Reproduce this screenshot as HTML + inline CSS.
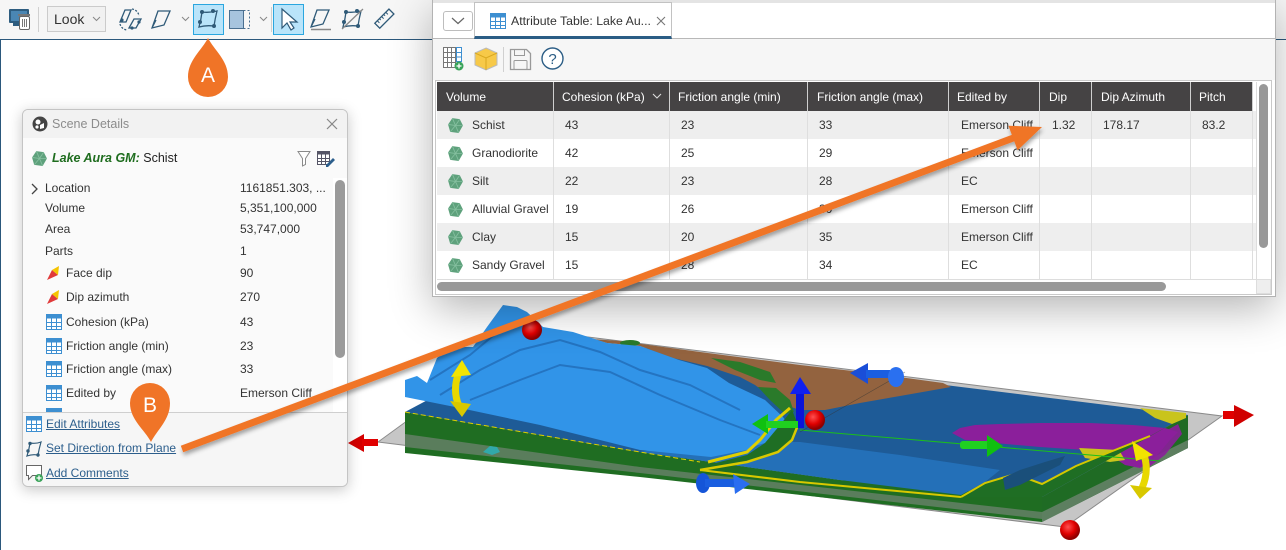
<!DOCTYPE html>
<html><head><meta charset="utf-8">
<style>
*{box-sizing:border-box;margin:0;padding:0}
body{width:1286px;height:550px;overflow:hidden;position:relative;background:#fff;font-family:"Liberation Sans",Arial,sans-serif;font-size:12px;color:#333}
.a{position:absolute}
.t{position:absolute;white-space:nowrap;line-height:16px}
.h{position:absolute;white-space:nowrap;line-height:16px;color:#fff;top:89px}
.lk{position:absolute;white-space:nowrap;line-height:16px;left:23px;color:#2c5e8c;text-decoration:underline}
.vl{position:absolute;width:1px;background:#dedede;top:111px;height:168px}
.hl{position:absolute;width:1px;background:#cfcfcf;top:82px;height:29px}
</style></head><body>

<!-- main toolbar -->
<div class="a" style="left:0;top:0;width:1286px;height:40px;background:#f6f6f6;border-bottom:1px solid #2b587c"></div>
<div class="a" style="left:0;top:40px;width:1px;height:510px;background:#2b587c"></div>
<svg class="a" style="left:0;top:0" width="440" height="40">
 <rect x="9" y="9" width="20" height="14" rx="1" fill="#2e5d80"/>
 <rect x="11" y="11" width="16" height="10" fill="#4a86b3"/>
 <rect x="13" y="23" width="8" height="3" fill="#2e5d80"/>
 <rect x="18" y="14" width="12" height="2" fill="#777"/>
 <rect x="19.5" y="16.5" width="10" height="13" rx="1.5" fill="#fff" stroke="#666"/>
 <path d="M22.5 19v8M24.5 19v8M26.5 19v8" stroke="#777"/>
 <line x1="38.5" y1="7" x2="38.5" y2="32" stroke="#d0d0d0"/>
 <rect x="47.5" y="6.5" width="58" height="25" fill="#f1f1f1" stroke="#cbcbcb"/>
 <text x="54" y="24" font-size="14" fill="#333" font-family="Liberation Sans, Arial, sans-serif">Look</text>
 <path d="M93 17l3.5 3.5l3.5-3.5" fill="none" stroke="#888"/>
 <g fill="none" stroke="#2f5a78" stroke-width="1.3">
  <path d="M120 22l5-12h6l-5 12z"/><path d="M129 28l5-9h7l-5 9z"/>
  <path d="M132 9a8 8 0 0 1 7 7" stroke-dasharray="2 1.5"/><path d="M120 24a8 8 0 0 0 7 6" stroke-dasharray="2 1.5"/>
 </g>
 <circle cx="122" cy="20" r="1.6" fill="#2f5a78"/><circle cx="139" cy="22" r="1.6" fill="#2f5a78"/><circle cx="132" cy="28" r="1.6" fill="#2f5a78"/>
 <path d="M152 28l6-17h12l-6 14z M152 28l4-8" fill="none" stroke="#2f5a78" stroke-width="1.3"/>
 <path d="M182 17l3.5 3.5l3.5-3.5" fill="none" stroke="#888"/>
 <rect x="193.5" y="4.5" width="30" height="30" fill="#b9e4fa" stroke="#2aa6df"/>
 <path d="M199 27q2-7 3-15q7 1 15-1q-2 8-3 15q-8-1-15 1z" fill="none" stroke="#2f5a78" stroke-width="1.3"/>
 <circle cx="202" cy="12" r="2" fill="#2f5a78"/><circle cx="213" cy="11" r="2" fill="#2f5a78"/><circle cx="214" cy="26" r="2" fill="#2f5a78"/><circle cx="200" cy="22" r="2" fill="#2f5a78"/>
 <rect x="229.5" y="10.5" width="14" height="18" fill="#a7c4de" stroke="#4a6f90"/>
 <path d="M243.5 10.5h6v18h-6" fill="none" stroke="#4a6f90" stroke-dasharray="2 2"/>
 <path d="M260 17l3.5 3.5l3.5-3.5" fill="none" stroke="#888"/>
 <line x1="271.5" y1="7" x2="271.5" y2="32" stroke="#d0d0d0"/>
 <rect x="273.5" y="4.5" width="30" height="30" fill="#b9e4fa" stroke="#2aa6df"/>
 <path d="M282 9v19l5-5 4 7 3-2-4-6h7z" fill="#fff" stroke="#2f5a78" stroke-width="1.2"/>
 <path d="M311 27l6-17h12l-6 14z M311 27l4-8" fill="none" stroke="#2f5a78" stroke-width="1.3"/>
 <line x1="311" y1="29.5" x2="331" y2="29.5" stroke="#888" stroke-width="1.5"/>
 <path d="M343 27q2-7 3-15q7 1 15-1q-2 8-3 15q-8-1-15 1z" fill="none" stroke="#2f5a78" stroke-width="1.3"/>
 <line x1="342" y1="29" x2="363" y2="9" stroke="#888" stroke-width="1.3"/>
 <circle cx="346" cy="12" r="2" fill="#2f5a78"/><circle cx="357" cy="11" r="2" fill="#2f5a78"/><circle cx="358" cy="26" r="2" fill="#2f5a78"/><circle cx="344" cy="22" r="2" fill="#2f5a78"/>
 <g transform="rotate(-45 384 19)"><rect x="374.5" y="15.5" width="20" height="7" fill="none" stroke="#2f5a78" stroke-width="1.3"/>
 <path d="M378 15.5v3M381 15.5v2M384 15.5v3M387 15.5v2M390 15.5v3" stroke="#2f5a78"/></g>
</svg>

<!-- 3D scene -->
<svg class="a" style="left:0;top:0;z-index:1" width="1286" height="550">
 <defs>
  <radialGradient id="rs" cx="40%" cy="35%" r="60%"><stop offset="0" stop-color="#ff5050"/><stop offset=".6" stop-color="#e00000"/><stop offset="1" stop-color="#900000"/></radialGradient>
 </defs>
 <polygon points="378,442 532,330 1222,416 1065,527" fill="#c6c6c6" stroke="#8a8a8a" stroke-width="1"/>
 <!-- right face -->
 <polygon points="1042,497 1188,415 1188,448 1042,522" fill="#1f6b24"/>
 <polygon points="1042,512 1188,440 1188,448 1042,522" fill="#5d7f60"/>
 <polygon points="1135,452 1150,440 1178,424 1182,434 1165,455 1145,470" fill="#8b1f9b" opacity=".9"/>
 <!-- front face -->
 <polygon points="405,412 640,452 840,480 1042,497 1042,522 640,477 405,453" fill="#1f6d22"/>
 <polygon points="405,434 640,467 1042,512 1042,519 640,473 405,447" fill="#5a7d5c"/>
 <!-- top surface -->
 <polygon points="405,412 548,336 1188,415 1042,497 840,480 640,452" fill="#1e5b97"/>
 <polygon points="640,452 840,480 961,495 985,482 1000,470 900,455 800,442 700,440" fill="#2470b8"/>
 <polygon points="548,336 620,341 700,352 800,365 870,373 943,383 951,387 900,396 860,403 825,410 800,410 782,404 770,396 755,385 740,377 707,366 673,358 640,346 607,343 573,333" fill="#93633f"/>
 <ellipse cx="630" cy="343" rx="10" ry="3" fill="#2a7a2a"/>
 <polygon points="711,358 740,362 770,372 776,383 760,380 735,370" fill="#2a7a2a"/>
 <polygon points="758,387 776,388 790,400 794,412 785,414 770,400" fill="#2a7a2a"/>
 <!-- mountain -->
 <polygon points="405,397 405,380 417,376 427,383 437,358 450,347 473,347 487,327 503,305 517,307 527,312 543,327 573,332 607,343 640,346 679,360 707,368 729,383 765,400 783,417 790,427 776,440 758,445 747,450 711,457 640,450 600,440 540,425 460,408" fill="#3194e8"/>
 <g fill="none" stroke="#1d5fa8" stroke-width="2" opacity=".6">
  <path d="M440 395 L480 370 L520 350 L560 340 L600 352 L640 370 L690 385 L740 410"/>
  <path d="M470 400 L520 380 L560 365 L610 372 L660 395 L720 420 L760 435"/>
  <path d="M430 380 L470 355 L500 330"/>
 </g>
 <!-- coastline -->
 <polygon points="708,465 747,455 765,443 780,425 792,410 798,425 792,440 778,452 748,462 712,470" fill="#1f6e24"/>
 <polyline points="708,462 747,452 760,440 776,420 790,408" fill="none" stroke="#e0d000" stroke-width="3"/>
 <polyline points="700,470 747,462 778,452 792,440 798,425" fill="none" stroke="#d8c800" stroke-width="2.5"/>
 <polyline points="405,412 640,452 700,462" fill="none" stroke="#e0d000" stroke-width="1" stroke-dasharray="5 3"/>
 <polyline points="700,470 800,482 961,497" fill="none" stroke="#d8c800" stroke-width="2"/>
 <!-- purple lens -->
 <polygon points="952,433 960,428 975,425 1000,424 1040,423 1090,423 1133,425 1165,428 1178,432 1170,440 1160,452 1150,462 1140,468 1125,465 1110,455 1085,450 1040,447 995,443 965,440" fill="#8b1f9b"/>
 <polygon points="1079,448 1119,450 1125,460 1110,462 1085,458" fill="#c9c41c"/>
 <!-- lower right green -->
 <polygon points="965,497 985,483 1015,474 1042,484 1076,466 1110,452 1150,436 1186,416 1042,497" fill="#1f6e24"/>
 <polyline points="961,497 985,483 1015,474 1042,484 1076,466 1110,452 1150,436" fill="none" stroke="#d4c800" stroke-width="2"/>
 <polygon points="1003,478 1020,470 1045,462 1065,456 1060,465 1040,475 1020,485 1005,490" fill="#1a4f7a"/>
 <polygon points="1140,408 1186,413 1186,418 1172,424 1155,418" fill="#c9c41c"/>
 <line x1="800" y1="430" x2="1160" y2="461" stroke="#1bbf1b" stroke-width="1"/>
 <line x1="800" y1="432" x2="905" y2="372" stroke="#333" stroke-width=".6" opacity=".6"/>
 <!-- gizmos -->
 <polygon points="348,443 364,434 364,452" fill="#d40000"/>
 <rect x="362" y="439" width="16" height="7" fill="#e00000"/>
 <circle cx="532" cy="330" r="10" fill="url(#rs)"/>
 <path d="M459 372 Q452 390 459 406" fill="none" stroke="#e8d800" stroke-width="7"/>
 <polygon points="462,360 451,377 471,375" fill="#f2e400"/>
 <polygon points="462,417 450,401 471,404" fill="#d8c800"/>
 <rect x="796" y="392" width="8" height="36" fill="#0a14d8"/>
 <polygon points="800,377 790,394 811,394" fill="#1020f0"/>
 <polygon points="752,424 768,414 768,434" fill="#10c010"/>
 <rect x="766" y="421" width="32" height="7" fill="#20d020"/>
 <circle cx="815" cy="420" r="10" fill="url(#rs)"/>
 <ellipse cx="703" cy="483" rx="7" ry="10" fill="#1555d8"/>
 <rect x="705" y="479" width="30" height="8" fill="#1a5ee0"/>
 <polygon points="750,484 733,474 735,494" fill="#2a6ef0"/>
 <polygon points="850,373 868,363 868,384" fill="#1a4ed8"/>
 <rect x="866" y="370" width="24" height="8" fill="#1a5ee0"/>
 <ellipse cx="896" cy="377" rx="8" ry="10" fill="#2a70f0"/>
 <rect x="960" y="441" width="30" height="8" rx="3" fill="#20d020"/>
 <polygon points="1003,446 987,435 987,457" fill="#10c010"/>
 <path d="M1143 452 Q1150 470 1142 488" fill="none" stroke="#e8d800" stroke-width="7"/>
 <polygon points="1132,441 1153,455 1136,461" fill="#f2e400"/>
 <polygon points="1140,499 1130,485 1152,488" fill="#d8c800"/>
 <rect x="1223" y="411" width="14" height="8" fill="#e00000"/>
 <polygon points="1254,415 1234,405 1234,427" fill="#d00000"/>
 <circle cx="1070" cy="530" r="10" fill="url(#rs)"/>
 <polygon points="483,452 490,446 497,447 500,452 492,455" fill="#2ab0b8" opacity=".85"/>
</svg>

<!-- Scene details panel -->
<div class="a" style="left:22px;top:109px;width:326px;height:378px;background:#fafafa;border:1px solid #c4c4c4;border-radius:6px;box-shadow:0 3px 14px rgba(0,0,0,.22);overflow:hidden;z-index:5">
 <div class="a" style="left:0;top:0;width:324px;height:28px;background:#f2f2f2"></div>
 <svg class="a" style="left:9px;top:6px" width="16" height="16"><circle cx="8" cy="8" r="7.5" fill="#444"/><circle cx="6" cy="6" r="2.5" fill="#fff"/><path d="M8 9l4-2v5l-4 1z" fill="#fff"/><circle cx="5" cy="11" r="1.6" fill="#fff"/></svg>
 <div class="t" style="left:29px;top:6px;color:#8c8c8c;font-size:12.5px">Scene Details</div>
 <svg class="a" style="left:303px;top:8px" width="12" height="12"><path d="M1 1L11 11M11 1L1 11" stroke="#888" stroke-width="1.2"/></svg>
 <svg class="a" style="left:8px;top:40px" width="17" height="17" viewBox="0 0 16 16"><polygon points="5,1 12,2 15,8 11,15 3,14 1,7" fill="#5ea17c"/><path d="M5,1 L8,8 L12,2 M1,7 L8,8 L15,8 M3,14 L8,8 L11,15" stroke="#86c0a0" stroke-width=".8" fill="none"/></svg>
 <div class="t" style="left:29px;top:40px;font-size:12.5px"><b><i style="color:#1f6d1f">Lake Aura GM:</i></b> <span style="color:#222">Schist</span></div>
 <svg class="a" style="left:274px;top:40px" width="14" height="17"><path d="M1 1.5h12l-4.5 7v6l-3 1.5v-7.5z" fill="#fff" stroke="#8a8a8a"/></svg>
 <svg class="a" style="left:294px;top:40px" width="18" height="17"><rect x=".5" y="1.5" width="12" height="13" fill="#fff" stroke="#556"/><rect x=".5" y="1.5" width="12" height="3" fill="#556"/><path d="M4.5 4v11M8.5 4v11M0 8.5h13M0 11.5h13" stroke="#556"/><path d="M9 15l7-7 2 2-7 7h-2z" fill="#2c5e8c"/></svg>
 <div class="a" style="left:0;top:68px;width:310px;height:234px;overflow:hidden">
  <svg class="a" style="left:8px;top:5px" width="8" height="12"><path d="M1 1l5 5-5 5" fill="none" stroke="#444" stroke-width="1.3"/></svg>
  <div class="t" style="left:22px;top:2px">Location</div><div class="t" style="left:217px;top:2px">1161851.303, ...</div>
  <div class="t" style="left:22px;top:22px">Volume</div><div class="t" style="left:217px;top:22px">5,351,100,000</div>
  <div class="t" style="left:22px;top:43px">Area</div><div class="t" style="left:217px;top:43px">53,747,000</div>
  <div class="t" style="left:22px;top:65px">Parts</div><div class="t" style="left:217px;top:65px">1</div>
  <svg class="a" style="left:23px;top:87px" width="16" height="16"><polygon points="1,15 6,5 12,10" fill="#e03a3a"/><polygon points="6,5 13,1 12,10" fill="#f5c400"/></svg>
  <div class="t" style="left:43px;top:87px">Face dip</div><div class="t" style="left:217px;top:87px">90</div>
  <svg class="a" style="left:23px;top:111px" width="16" height="16"><polygon points="1,15 6,5 12,10" fill="#e03a3a"/><polygon points="6,5 13,1 12,10" fill="#f5c400"/></svg>
  <div class="t" style="left:43px;top:111px">Dip azimuth</div><div class="t" style="left:217px;top:111px">270</div>
  <svg class="a" style="left:23px;top:136px" width="16" height="16"><rect x=".5" y=".5" width="15" height="15" fill="#fff" stroke="#3d8fd1"/><rect x=".5" y=".5" width="15" height="4" fill="#3d8fd1"/><path d="M5.5 4v12M10.5 4v12M0 8.5h16M0 12.5h16" stroke="#3d8fd1"/></svg>
  <div class="t" style="left:43px;top:136px">Cohesion (kPa)</div><div class="t" style="left:217px;top:136px">43</div>
  <svg class="a" style="left:23px;top:160px" width="16" height="16"><rect x=".5" y=".5" width="15" height="15" fill="#fff" stroke="#3d8fd1"/><rect x=".5" y=".5" width="15" height="4" fill="#3d8fd1"/><path d="M5.5 4v12M10.5 4v12M0 8.5h16M0 12.5h16" stroke="#3d8fd1"/></svg>
  <div class="t" style="left:43px;top:160px">Friction angle (min)</div><div class="t" style="left:217px;top:160px">23</div>
  <svg class="a" style="left:23px;top:183px" width="16" height="16"><rect x=".5" y=".5" width="15" height="15" fill="#fff" stroke="#3d8fd1"/><rect x=".5" y=".5" width="15" height="4" fill="#3d8fd1"/><path d="M5.5 4v12M10.5 4v12M0 8.5h16M0 12.5h16" stroke="#3d8fd1"/></svg>
  <div class="t" style="left:43px;top:183px">Friction angle (max)</div><div class="t" style="left:217px;top:183px">33</div>
  <svg class="a" style="left:23px;top:207px" width="16" height="16"><rect x=".5" y=".5" width="15" height="15" fill="#fff" stroke="#3d8fd1"/><rect x=".5" y=".5" width="15" height="4" fill="#3d8fd1"/><path d="M5.5 4v12M10.5 4v12M0 8.5h16M0 12.5h16" stroke="#3d8fd1"/></svg>
  <div class="t" style="left:43px;top:207px">Edited by</div><div class="t" style="left:217px;top:207px">Emerson Cliff</div>
  <svg class="a" style="left:23px;top:230px" width="16" height="16"><rect x=".5" y=".5" width="15" height="15" fill="#fff" stroke="#3d8fd1"/><rect x=".5" y=".5" width="15" height="4" fill="#3d8fd1"/></svg>
 </div>
 <div class="a" style="left:310px;top:68px;width:14px;height:234px;background:#fff"></div>
 <div class="a" style="left:312px;top:70px;width:10px;height:178px;background:#9a9a9a;border-radius:5px"></div>
 <div class="a" style="left:0;top:302px;width:324px;height:74px;background:#f6f6f6;border-top:1px solid #cfcfcf"></div>
 <svg class="a" style="left:3px;top:306px" width="16" height="16"><rect x=".5" y=".5" width="15" height="15" fill="#fff" stroke="#3d8fd1"/><rect x=".5" y=".5" width="15" height="4" fill="#3d8fd1"/><path d="M5.5 4v12M10.5 4v12M0 8.5h16M0 12.5h16" stroke="#3d8fd1"/></svg>
 <div class="lk" style="top:306px">Edit Attributes</div>
 <svg class="a" style="left:2px;top:330px" width="18" height="18"><path d="M2 16q2-6 3-13q6 1 11-1q-2 7-3 13q-6-1-11 1z" fill="none" stroke="#2f5a78" stroke-width="1.2"/><circle cx="5" cy="3.5" r="1.7" fill="#2f5a78"/><circle cx="13" cy="15" r="1.7" fill="#2f5a78"/><circle cx="3" cy="11" r="1.7" fill="#2f5a78"/></svg>
 <div class="lk" style="top:330px">Set Direction from Plane</div>
 <svg class="a" style="left:2px;top:354px" width="19" height="19"><path d="M1.5 1.5h15v10h-9l-4 4v-4h-2z" fill="#fff" stroke="#666"/><circle cx="14" cy="14" r="4" fill="#3aa35a"/><path d="M14 11.5v5M11.5 14h5" stroke="#fff" stroke-width="1.3"/></svg>
 <div class="lk" style="top:355px">Add Comments</div>
</div>

<!-- Attribute table panel -->
<div class="a" style="left:433px;top:0;width:842px;height:296px;background:#fff;outline:1px solid #b3b3b3;box-shadow:0 12px 40px rgba(0,0,0,.3);z-index:5">
 <div class="a" style="left:0;top:0;width:842px;height:3px;background:#e4e4e4"></div>
 <div class="a" style="left:0;top:38px;width:842px;height:1px;background:#b8b8b8"></div>
 <div class="a" style="left:10px;top:11px;width:30px;height:20px;border:1px solid #bdbdbd;border-radius:3px;background:#fff"></div>
 <svg class="a" style="left:18px;top:17px" width="14" height="8"><path d="M1 1l6 5.5 6-5.5" fill="none" stroke="#666" stroke-width="1.2"/></svg>
 <div class="a" style="left:41px;top:2px;width:198px;height:37px;background:#fff;border:1px solid #c2c2c2;border-bottom:3px solid #2b5d85"></div>
 <svg class="a" style="left:57px;top:13px" width="16" height="16"><rect x=".5" y=".5" width="15" height="15" fill="#fff" stroke="#3d8fd1"/><rect x=".5" y=".5" width="15" height="4" fill="#3d8fd1"/><path d="M5.5 4v12M10.5 4v12M0 8.5h16M0 12.5h16" stroke="#3d8fd1"/></svg>
 <div class="t" style="left:78px;top:13px;font-size:12.3px;color:#333">Attribute Table: Lake Au...</div>
 <svg class="a" style="left:223px;top:16px" width="10" height="10"><path d="M1 1L9 9M9 1L1 9" stroke="#777" stroke-width="1.1"/></svg>
 <div class="a" style="left:0;top:39px;width:842px;height:41px;background:#f6f6f6"></div>
 <svg class="a" style="left:10px;top:47px" width="22" height="24"><rect x=".5" y=".5" width="12" height="20" fill="#fff" stroke="#777"/><path d="M4.5 0v21M8.5 0v21M0 5.5h13M0 10.5h13M0 15.5h13" stroke="#777"/><rect x="13.5" y=".5" width="5" height="14" fill="#fff" stroke="#3d8fd1"/><path d="M13 5.5h6M13 10h6" stroke="#3d8fd1"/><circle cx="16" cy="19" r="4.5" fill="#3aa35a"/><path d="M16 16.5v5M13.5 19h5" stroke="#fff" stroke-width="1.3"/></svg>
 <svg class="a" style="left:41px;top:47px" width="24" height="24"><polygon points="12,1 23,6 23,18 12,23 1,18 1,6" fill="#f7c948" stroke="#bbb"/><path d="M1 6l11 5 11-5M12 11v12" fill="none" stroke="#d9a820"/></svg>
 <div class="a" style="left:70px;top:47px;width:1px;height:25px;background:#d0d0d0"></div>
 <svg class="a" style="left:76px;top:48px" width="23" height="23"><path d="M1.5 1.5h16l4 4v16h-20z" fill="none" stroke="#999" stroke-width="1.3"/><rect x="5.5" y="1.5" width="10" height="6" fill="none" stroke="#999"/><rect x="5" y="12.5" width="13" height="9" rx="1" fill="none" stroke="#999"/></svg>
 <svg class="a" style="left:108px;top:47px" width="23" height="23"><circle cx="11.5" cy="11.5" r="10.5" fill="#fff" stroke="#2b5d85" stroke-width="1.4"/><text x="11.5" y="17" font-size="15" text-anchor="middle" fill="#2b5d85" font-family="Liberation Sans, Arial, sans-serif">?</text></svg>

 <div class="a" style="left:2px;top:80px;width:837px;height:215px;border:1px solid #c9c9c9;background:#fff"></div>
 <div class="a" style="left:4px;top:82px;width:815px;height:29px;background:#454344"></div>
 <div class="hl" style="left:120px"></div><div class="hl" style="left:236px"></div><div class="hl" style="left:374px"></div><div class="hl" style="left:515px"></div><div class="hl" style="left:606px"></div><div class="hl" style="left:658px"></div><div class="hl" style="left:757px"></div><div class="hl" style="left:819px"></div>
 <div class="h" style="left:13px">Volume</div>
 <div class="h" style="left:129px">Cohesion (kPa)</div>
 <svg class="a" style="left:219px;top:93px" width="10" height="7"><path d="M1 1l4 4 4-4" fill="none" stroke="#ddd" stroke-width="1.1"/></svg>
 <div class="h" style="left:245px">Friction angle (min)</div>
 <div class="h" style="left:384px">Friction angle (max)</div>
 <div class="h" style="left:524px">Edited by</div>
 <div class="h" style="left:616px">Dip</div>
 <div class="h" style="left:668px">Dip Azimuth</div>
 <div class="h" style="left:766px">Pitch</div>

 <div class="a" style="left:4px;top:111px;width:819px;height:28px;background:#eeeeee"></div>
 <div class="a" style="left:4px;top:167px;width:819px;height:28px;background:#eeeeee"></div>
 <div class="a" style="left:4px;top:223px;width:819px;height:28px;background:#eeeeee"></div>
 <div class="vl" style="left:120px"></div><div class="vl" style="left:236px"></div><div class="vl" style="left:374px"></div><div class="vl" style="left:515px"></div><div class="vl" style="left:606px"></div><div class="vl" style="left:658px"></div><div class="vl" style="left:757px"></div><div class="vl" style="left:819px"></div>

 <svg class="a" style="left:14px;top:117px" width="17" height="17" viewBox="0 0 16 16"><polygon points="5,1 12,2 15,8 11,15 3,14 1,7" fill="#5ea17c"/><path d="M5,1 L8,8 L12,2 M1,7 L8,8 L15,8 M3,14 L8,8 L11,15" stroke="#86c0a0" stroke-width=".8" fill="none"/></svg>
 <svg class="a" style="left:14px;top:145px" width="17" height="17" viewBox="0 0 16 16"><polygon points="5,1 12,2 15,8 11,15 3,14 1,7" fill="#5ea17c"/><path d="M5,1 L8,8 L12,2 M1,7 L8,8 L15,8 M3,14 L8,8 L11,15" stroke="#86c0a0" stroke-width=".8" fill="none"/></svg>
 <svg class="a" style="left:14px;top:173px" width="17" height="17" viewBox="0 0 16 16"><polygon points="5,1 12,2 15,8 11,15 3,14 1,7" fill="#5ea17c"/><path d="M5,1 L8,8 L12,2 M1,7 L8,8 L15,8 M3,14 L8,8 L11,15" stroke="#86c0a0" stroke-width=".8" fill="none"/></svg>
 <svg class="a" style="left:14px;top:201px" width="17" height="17" viewBox="0 0 16 16"><polygon points="5,1 12,2 15,8 11,15 3,14 1,7" fill="#5ea17c"/><path d="M5,1 L8,8 L12,2 M1,7 L8,8 L15,8 M3,14 L8,8 L11,15" stroke="#86c0a0" stroke-width=".8" fill="none"/></svg>
 <svg class="a" style="left:14px;top:229px" width="17" height="17" viewBox="0 0 16 16"><polygon points="5,1 12,2 15,8 11,15 3,14 1,7" fill="#5ea17c"/><path d="M5,1 L8,8 L12,2 M1,7 L8,8 L15,8 M3,14 L8,8 L11,15" stroke="#86c0a0" stroke-width=".8" fill="none"/></svg>
 <svg class="a" style="left:14px;top:257px" width="17" height="17" viewBox="0 0 16 16"><polygon points="5,1 12,2 15,8 11,15 3,14 1,7" fill="#5ea17c"/><path d="M5,1 L8,8 L12,2 M1,7 L8,8 L15,8 M3,14 L8,8 L11,15" stroke="#86c0a0" stroke-width=".8" fill="none"/></svg>

 <div class="t" style="left:39px;top:117px">Schist</div><div class="t" style="left:132px;top:117px">43</div><div class="t" style="left:248px;top:117px">23</div><div class="t" style="left:386px;top:117px">33</div><div class="t" style="left:528px;top:117px">Emerson Cliff</div><div class="t" style="left:619px;top:117px">1.32</div><div class="t" style="left:670px;top:117px">178.17</div><div class="t" style="left:769px;top:117px">83.2</div>
 <div class="t" style="left:39px;top:145px">Granodiorite</div><div class="t" style="left:132px;top:145px">42</div><div class="t" style="left:248px;top:145px">25</div><div class="t" style="left:386px;top:145px">29</div><div class="t" style="left:528px;top:145px">Emerson Cliff</div>
 <div class="t" style="left:39px;top:173px">Silt</div><div class="t" style="left:132px;top:173px">22</div><div class="t" style="left:248px;top:173px">23</div><div class="t" style="left:386px;top:173px">28</div><div class="t" style="left:528px;top:173px">EC</div>
 <div class="t" style="left:39px;top:201px">Alluvial Gravel</div><div class="t" style="left:132px;top:201px">19</div><div class="t" style="left:248px;top:201px">26</div><div class="t" style="left:386px;top:201px">30</div><div class="t" style="left:528px;top:201px">Emerson Cliff</div>
 <div class="t" style="left:39px;top:229px">Clay</div><div class="t" style="left:132px;top:229px">15</div><div class="t" style="left:248px;top:229px">20</div><div class="t" style="left:386px;top:229px">35</div><div class="t" style="left:528px;top:229px">Emerson Cliff</div>
 <div class="t" style="left:39px;top:257px">Sandy Gravel</div><div class="t" style="left:132px;top:257px">15</div><div class="t" style="left:248px;top:257px">28</div><div class="t" style="left:386px;top:257px">34</div><div class="t" style="left:528px;top:257px">EC</div>

 <div class="a" style="left:823px;top:82px;width:15px;height:197px;background:#fff;border-left:1px solid #ddd"></div>
 <div class="a" style="left:826px;top:84px;width:9px;height:164px;background:#999;border-radius:5px"></div>
 <div class="a" style="left:4px;top:279px;width:819px;height:15px;background:#fff;border-top:1px solid #ddd"></div>
 <div class="a" style="left:4px;top:282px;width:729px;height:9px;background:#999;border-radius:5px"></div>
 <div class="a" style="left:823px;top:279px;width:15px;height:15px;background:#eee;border:1px solid #ddd"></div>
</div>

<!-- overlay: orange arrow + markers -->
<svg class="a" style="left:0;top:0;z-index:10" width="1286" height="550">
 <defs><filter id="sh" x="-5%" y="-30%" width="110%" height="160%"><feDropShadow dx="1" dy="3" stdDeviation="2" flood-color="#000" flood-opacity=".35"/></filter></defs>
 <g filter="url(#sh)">
  <line x1="182" y1="449" x2="1016" y2="137" stroke="#f07427" stroke-width="7"/>
  <polygon points="1042,127 1017.6,150.2 1008.4,125.8" fill="#f07427"/>
 </g>
 <path d="M208 38 C214 50 228 60 228 77 A20 20 0 1 1 188 77 C188 60 202 50 208 38 Z" fill="#f07427"/>
 <text x="208" y="82" font-size="21" fill="#fff" text-anchor="middle" font-family="Liberation Sans, Arial, sans-serif">A</text>
 <path d="M151 442 C145 430 130 420 130 403 A20 20 0 1 1 170 403 C170 420 157 430 151 442 Z" fill="#f07427"/>
 <text x="150" y="412" font-size="21" fill="#fff" text-anchor="middle" font-family="Liberation Sans, Arial, sans-serif">B</text>
</svg>
</body></html>
